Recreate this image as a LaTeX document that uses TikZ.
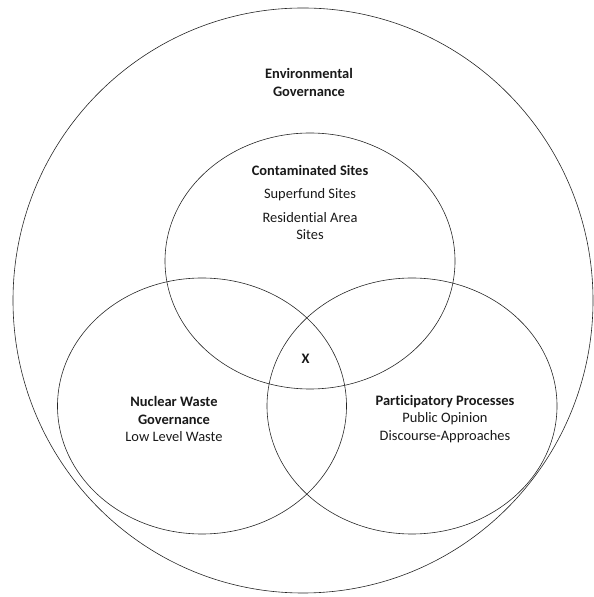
\documentclass[tikz,border=0pt]{standalone}
\usepackage{fontspec}
\setmainfont[Ligatures={NoCommon}]{Carlito}
\begin{document}
\begin{tikzpicture}[x=1bp,y=1bp,
  ring/.style={draw=black!85, line width=0.6pt},
  lbl/.style={align=center, inner sep=0pt, font=\fontsize{14.5}{17.5}\selectfont, text=black!90}]
\useasboundingbox (0,0) rectangle (594,597);
% outer set
\draw[ring] (303,296.5) ellipse [x radius=290, y radius=292.5];
% three sets
\draw[ring] (310,336) ellipse [x radius=145, y radius=128];
\draw[ring] (202,191) ellipse [x radius=144.5, y radius=128];
\draw[ring] (412,191) ellipse [x radius=145, y radius=128];
% labels
\node[lbl] (env) at (309,514.5) {\textbf{Environmental}\\\textbf{Governance}};
\node[lbl, anchor=north] (cont) at (310,432) {\textbf{Contaminated Sites}\\[6pt]Superfund Sites\\[6pt]Residential Area\\Sites};
\node[lbl] (x) at (305.7,238) {\textbf{X}};
\node[lbl] (nuc) at (174,178) {\textbf{Nuclear Waste}\\\textbf{Governance}\\Low Level Waste};
\node[lbl] (part) at (445,178) {\textbf{Participatory Processes}\\Public Opinion\\Discourse-Approaches};
\end{tikzpicture}
\end{document}
